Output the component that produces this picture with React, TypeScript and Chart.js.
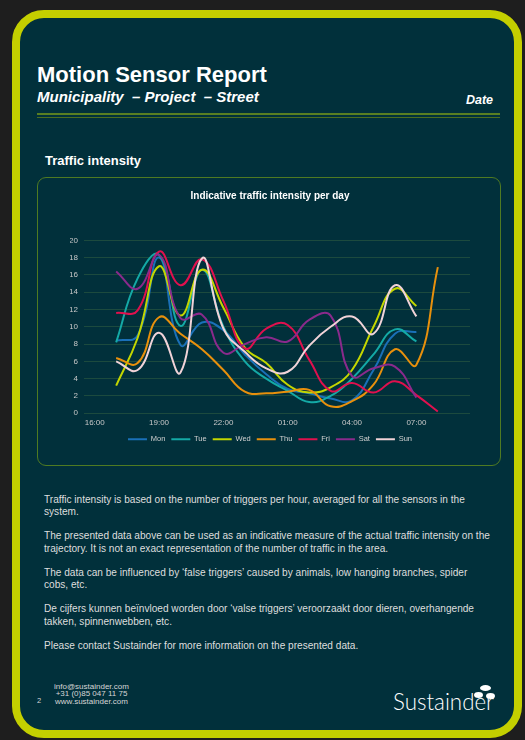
import React, { useEffect, useRef } from 'react';
import { Chart, registerables } from 'chart.js';

Chart.register(...registerables);

// ---- data ----
const HOURS = ['16:00', '17:00', '18:00', '19:00', '20:00', '21:00', '22:00', '23:00', '00:00', '01:00', '02:00', '03:00', '04:00', '05:00', '06:00', '07:00', '08:00', '09:00'];
const TICK_STEP = 3;
const Y_MIN = 0;
const Y_MAX = 20;
const Y_STEP = 2;

const MON = [null, 8.4, 9.0, 18.0, 7.9, 10.5, 9.6, 6.8, 4.5, 2.8, 2.3, 1.7, 1.5, 5.0, 9.2, 9.4, null, null];
const TUE = [null, 8.2, 15.6, 18.3, 10.1, 16.6, 10.0, 6.0, 4.0, 2.6, 1.3, 2.0, 4.0, 6.8, 9.7, 8.3, null, null];
const WED = [null, 3.2, 8.7, 17.0, 11.3, 16.6, 12.2, 7.6, 5.8, 3.3, 2.4, 3.0, 5.0, 10.0, 14.4, 12.4, null, null];
const THU = [null, 6.4, 5.8, 11.1, 9.2, 7.4, 5.0, 2.5, 2.3, 2.5, 2.7, 0.8, 1.4, 3.3, 7.4, 5.6, 16.9, null];
const FRI = [null, 11.6, 11.9, 18.7, 14.8, 17.8, 13.0, 7.5, 9.8, 10.2, 6.2, 2.6, 3.5, 2.4, 3.7, 2.1, 0.2, null];
const SAT = [null, 16.4, 14.4, 18.3, 11.0, 11.4, 7.0, 8.0, 8.8, 8.3, 10.8, 11.3, 4.3, 5.2, 5.4, 1.8, null, null];
const SUN = [null, 6.0, 5.0, 9.3, 4.7, 17.9, 9.8, 7.1, 5.2, 4.8, 7.8, 10.0, 11.2, 9.2, 14.8, 11.2, null, null];

const SERIES_NAMES = ['Mon', 'Tue', 'Wed', 'Thu', 'Fri', 'Sat', 'Sun'];
const SERIES_VALUES = [MON, TUE, WED, THU, FRI, SAT, SUN];
const SERIES_COLORS = ['#1a70b8', '#14a9a6', '#c3d600', '#e8900c', '#e0104e', '#8a2a8c', '#f1d3d8'];

const CHART_TITLE = 'Indicative traffic intensity per day';

const PARAGRAPHS = [
  ['Traffic intensity is based on the number of triggers per hour, averaged for all the sensors in the', 'system.'],
  ['The presented data above can be used as an indicative measure of the actual traffic intensity on the', 'trajectory. It is not an exact representation of the number of traffic in the area.'],
  ['The data can be influenced by \u2018false triggers\u2019 caused by animals, low hanging branches, spider', 'cobs, etc.'],
  ['De cijfers kunnen beïnvloed worden door \u2018valse triggers\u2019 veroorzaakt door dieren, overhangende', 'takken, spinnenwebben, etc.'],
  ['Please contact Sustainder for more information on the presented data.'],
];

const FONT = "'Liberation Sans', Arial, Helvetica, sans-serif";

function TrafficChart() {
  const ref = useRef<HTMLCanvasElement>(null);
  useEffect(() => {
    if (!ref.current) return;
    const datasets = SERIES_NAMES.map((name, i) => ({
      label: name,
      data: SERIES_VALUES[i],
      borderColor: SERIES_COLORS[i],
      backgroundColor: SERIES_COLORS[i],
      borderWidth: 2,
      pointRadius: 0,
      pointHoverRadius: 0,
      tension: 0.45,
      fill: false,
      spanGaps: false,
      order: SERIES_NAMES.length - i,
    }));
    const chart = new Chart(ref.current, {
      type: 'line',
      data: { labels: HOURS, datasets },
      options: {
        responsive: false,
        animation: false,
        devicePixelRatio: 1,
        layout: { padding: { left: 30, right: 26, top: 0, bottom: 10 } },
        plugins: {
          tooltip: { enabled: false },
          title: {
            display: true,
            text: CHART_TITLE,
            color: '#ffffff',
            font: { family: FONT, size: 10, weight: 'bold' },
            padding: { top: 10, bottom: 38.3 },
          },
          legend: {
            position: 'bottom',
            labels: {
              color: '#d0d0d0',
              font: { family: FONT, size: 7.5 },
              boxWidth: 19,
              boxHeight: 2,
              padding: 6,
              sort: (a: any, b: any) => a.datasetIndex - b.datasetIndex,
              generateLabels: (c: any) =>
                Chart.defaults.plugins.legend.labels.generateLabels(c).map((it: any) => ({ ...it, lineWidth: 0 })),
            },
          },
        },
        scales: {
          x: {
            type: 'category',
            offset: true,
            grid: { display: false, drawTicks: false },
            border: { display: false },
            ticks: {
              autoSkip: false,
              maxRotation: 0,
              minRotation: 0,
              color: '#c8c8c8',
              font: { family: FONT, size: 8 },
              padding: 5,
              callback: (_v: any, idx: number) => (idx % TICK_STEP === 0 ? HOURS[idx] : ''),
            },
            afterFit: (s: any) => { s.height = 16.25; },
          },
          y: {
            min: Y_MIN,
            max: Y_MAX,
            grid: { color: '#1c4a3e', lineWidth: 1, drawTicks: false },
            border: { display: false },
            ticks: {
              stepSize: Y_STEP,
              color: '#c8c8c8',
              font: { family: FONT, size: 8 },
              padding: 6,
            },
            afterFit: (s: any) => { s.width = 14; },
          },
        },
      },
    });
    return () => chart.destroy();
  }, []);
  return (
    <canvas
      ref={ref}
      width={456}
      height={283}
      style={{ position: 'absolute', left: 40, top: 180, width: 456, height: 283, display: 'block' }}
    />
  );
}

export default function App() {
  const abs = (s: React.CSSProperties): React.CSSProperties => ({ position: 'absolute', ...s });
  return (
    <div style={{ position: 'fixed', left: 0, top: 0, width: 525, height: 740, background: '#1e1e1e', overflow: 'hidden', fontFamily: FONT }}>
      <div style={abs({ left: 12, top: 10, width: 510, height: 728, boxSizing: 'border-box', border: '8px solid #c4cf00', borderRadius: 32, background: '#01303b' })} />
      <div style={abs({ left: 37, top: 64, fontSize: 22, lineHeight: '22px', fontWeight: 'bold', color: '#ffffff', whiteSpace: 'nowrap' })}>Motion Sensor Report</div>
      <div style={abs({ left: 37, top: 89, fontSize: 15, lineHeight: '15px', fontWeight: 'bold', fontStyle: 'italic', color: '#ffffff', whiteSpace: 'pre' })}>{'Municipality  \u2013 Project  \u2013 Street'}</div>
      <div style={abs({ right: 32, top: 93.5, fontSize: 12.5, lineHeight: '12.5px', fontWeight: 'bold', fontStyle: 'italic', color: '#ffffff' })}>Date</div>
      <div style={abs({ left: 37, top: 113.3, width: 463, height: 1.5, background: '#587e22' })} />
      <div style={abs({ left: 37, top: 116.7, width: 463, height: 1.5, background: '#4a6d20' })} />
      <div style={abs({ left: 45, top: 154, fontSize: 13, lineHeight: '13px', fontWeight: 'bold', color: '#ffffff' })}>Traffic intensity</div>
      <div style={abs({ left: 37, top: 177, width: 464, height: 289, boxSizing: 'border-box', border: '1px solid #4f7a22', borderRadius: 9 })} />
      <TrafficChart />
      <div style={abs({ left: 44, top: 493.5, fontSize: 10.1, lineHeight: '12.7px', color: '#dedede' })}>
        {PARAGRAPHS.map((p, i) => (
          <div key={i} style={{ marginBottom: 11.1 }}>
            {p.map((line, j) => (
              <div key={j} style={{ whiteSpace: 'nowrap' }}>{line}</div>
            ))}
          </div>
        ))}
      </div>
      <div style={abs({ left: 41, top: 682.5, width: 101, textAlign: 'center', fontSize: 8, lineHeight: '7.5px', color: '#d6d6d6', whiteSpace: 'nowrap' })}>
        <div>info@sustainder.com</div>
        <div>+31 (0)85 047 11 75</div>
        <div>www.sustainder.com</div>
      </div>
      <div style={abs({ left: 37, top: 697, fontSize: 7.5, lineHeight: '7.5px', color: '#d6d6d6' })}>2</div>
      <div style={abs({ left: 393, top: 688.7, fontSize: 24, lineHeight: '24px', fontFamily: "Lato, 'Open Sans', sans-serif", fontWeight: 300, color: '#ffffff', transform: 'scaleX(0.93)', transformOrigin: 'left top', whiteSpace: 'nowrap' })}>Sustainder</div>
      <div style={abs({ left: 480, top: 685, width: 11, height: 6, borderRadius: '50%', background: '#ffffff' })} />
      <div style={abs({ left: 474, top: 692, width: 9, height: 6, borderRadius: '50%', background: '#ffffff' })} />
      <div style={abs({ left: 486, top: 693, width: 9, height: 6, borderRadius: '50%', background: '#ffffff' })} />
    </div>
  );
}
